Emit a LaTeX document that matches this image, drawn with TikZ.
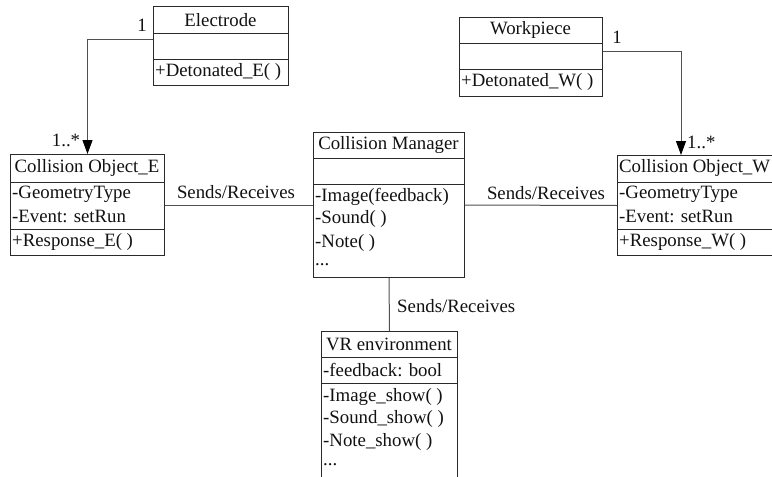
\documentclass[tikz,border=0pt]{standalone}
\usepackage{fontspec}
\setmainfont{Liberation Serif}
\newfontfamily\umlfont{Liberation Serif}
\usetikzlibrary{arrows.meta,calc}
\definecolor{ink}{HTML}{111111}
\definecolor{edge}{HTML}{2A2A2A}
\definecolor{wire}{HTML}{505050}
\tikzset{
  cls/.style={draw=edge, line width=1pt, inner sep=0pt, anchor=north west},
  sep/.style={draw=edge, line width=1pt},
  txt/.style={inner sep=0pt, text=ink, font=\umlfont\fontsize{18.8}{22}\selectfont},
  lft/.style={txt, anchor=west},
  ttl/.style={txt, anchor=center},
  assoc/.style={draw=wire, line width=1pt},
  nav/.style={assoc, -{Triangle[length=14pt,width=10pt,color=black,fill=black]}},
}
\begin{document}
\begin{tikzpicture}[x=1pt,y=-1pt]
\useasboundingbox (0,0) rectangle (772,477);
\clip (0,0) rectangle (772,477);

% Electrode
\node[cls, minimum width=135pt, minimum height=79pt] (electrode) at (153,6) {};
\draw[sep] ($(electrode.north west)+(0,27)$) -- ++(135,0);
\draw[sep] ($(electrode.north west)+(0,53)$) -- ++(135,0);
\node[ttl] (electrodeT) at (220.5,20) {Electrode};
\node[lft] (electrodeM) at (155,72) {+Detonated\_E( )};

% Workpiece
\node[cls, minimum width=143pt, minimum height=79pt] (workpiece) at (459,17) {};
\draw[sep] ($(workpiece.north west)+(0,26)$) -- ++(143,0);
\draw[sep] ($(workpiece.north west)+(0,52)$) -- ++(143,0);
\node[ttl] (workpieceT) at (530.5,30) {Workpiece};
\node[lft] (workpieceM) at (461,82) {+Detonated\_W( )};

% Collision Object_E
\node[cls, minimum width=154pt, minimum height=101pt] (coe) at (10,154) {};
\draw[sep] ($(coe.north west)+(0,28)$) -- ++(154,0);
\draw[sep] ($(coe.north west)+(0,75)$) -- ++(154,0);
\node[ttl] (coeT) at (87,168) {Collision Object\_E};
\node[lft] (coeA1) at (12,194) {-GeometryType};
\node[lft] (coeA2) at (12,216) {-Event: setRun};
\node[lft] (coeM1) at (12,242) {+Response\_E( )};

% Collision Object_W
\node[cls, minimum width=170pt, minimum height=100pt] (cow) at (617,155) {};
\draw[sep] ($(cow.north west)+(0,27)$) -- ++(170,0);
\draw[sep] ($(cow.north west)+(0,74)$) -- ++(170,0);
\node[lft] (cowT) at (619,168) {Collision Object\_W};
\node[lft] (cowA1) at (619,194) {-GeometryType};
\node[lft] (cowA2) at (619,216) {-Event: setRun};
\node[lft] (cowM1) at (619,242) {+Response\_W( )};

% Collision Manager
\node[cls, minimum width=151pt, minimum height=145pt] (cm) at (313,132) {};
\draw[sep] ($(cm.north west)+(0,26)$) -- ++(151,0);
\draw[sep] ($(cm.north west)+(0,52)$) -- ++(151,0);
\node[ttl] (cmT) at (388.5,145) {Collision Manager};
\node[lft] (cmM1) at (315,197) {-Image(feedback)};
\node[lft] (cmM2) at (315,219) {-Sound( )};
\node[lft] (cmM3) at (315,243) {-Note( )};
\node[lft] (cmM4) at (315,265) {...};

% VR environment
\node[cls, minimum width=136pt, minimum height=160pt] (vr) at (321,331) {};
\draw[sep] ($(vr.north west)+(0,26)$) -- ++(136,0);
\draw[sep] ($(vr.north west)+(0,52)$) -- ++(136,0);
\node[ttl] (vrT) at (389,344) {VR environment};
\node[lft] (vrA1) at (323,370) {-feedback: bool};
\node[lft] (vrM1) at (323,397) {-Image\_show( )};
\node[lft] (vrM2) at (323,419) {-Sound\_show( )};
\node[lft] (vrM3) at (323,442) {-Note\_show( )};
\node[lft] (vrM4) at (323,465) {...};

% associations
\draw[nav] ($(electrode.north west)+(0,33)$) -| (coe.north);
\draw[nav] ($(workpiece.north east)+(0,34)$) -| ($(cow.north west)+(64,0)$);
\draw[assoc] (coe.east) -- (cm.west);
\draw[assoc] (cm.east) -- (cow.west);
\draw[assoc] (cm.south) -- (vr.north);

% multiplicities and labels
\node[ttl] (m1) at (142,25) {1};
\node[ttl] (m2) at (66,140) {1..*};
\node[ttl] (m3) at (617,37) {1};
\node[lft] (m4) at (687,142) {1..*};
\node[ttl] (l1) at (236,192) {Sends/Receives};
\node[ttl] (l2) at (546,193) {Sends/Receives};
\node[lft] (l3) at (397,306) {Sends/Receives};
\end{tikzpicture}
\end{document}
